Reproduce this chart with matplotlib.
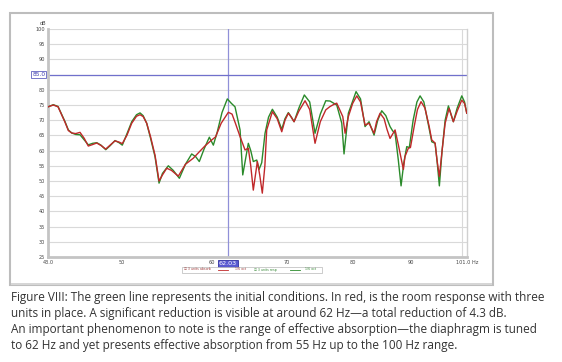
import matplotlib
matplotlib.use("Agg")
import matplotlib.pyplot as plt
import matplotlib.patches as mpatches
import matplotlib.ticker as mticker

# initial conditions (green) - frequency [Hz] / level [dB]
GREEN_F = [43.0, 43.47, 43.89, 44.52, 44.82, 45.13, 45.5, 45.9, 46.3, 46.68,
           47.1, 47.49, 47.9, 48.37, 48.8, 49.29, 49.7, 50.03, 50.5, 51.0,
           51.5, 51.87, 52.2, 52.58, 53.0, 53.48, 53.92, 54.3, 54.95, 55.5,
           56.2, 56.9, 57.63, 58.1, 58.53, 59.1, 59.74, 60.23, 60.7, 61.3,
           61.97, 62.5, 62.95, 63.6, 63.95, 64.3, 64.68, 65.0, 65.34, 65.8,
           66.11, 66.47, 66.92, 67.4, 67.93, 68.6, 69.24, 69.7, 70.18, 70.6,
           71.0, 71.7, 72.5, 73.3, 74.1, 74.9, 75.74, 76.4, 77.45, 78.25,
           78.61, 79.31, 80.56, 81.3, 82.05, 82.72, 83.57, 84.2, 84.89, 85.6,
           86.34, 86.8, 87.23, 87.8, 88.3, 88.8, 89.33, 89.8, 90.5, 91.2,
           91.79, 92.5, 93.3, 94.0, 94.64, 95.0, 95.47, 96.0, 96.6, 97.24,
           98.23, 99.0, 99.93, 100.5, 100.95]
GREEN_DB = [74.4, 75.1, 74.5, 69.5, 66.8, 65.8, 65.3, 65.2, 63.5, 61.9,
            62.4, 62.6, 61.8, 60.3, 61.6, 63.3, 62.6, 61.8, 65.5, 69.5,
            71.8, 72.4, 71.5, 69.0, 64.0, 58.0, 49.3, 52.5, 55.0, 53.5,
            50.9, 55.5, 58.9, 58.0, 56.4, 60.5, 64.4, 61.8, 66.0, 72.5,
            77.0, 75.5, 74.4, 66.8, 52.0, 57.0, 62.4, 60.0, 56.4, 56.9,
            53.8, 56.0, 65.7, 71.0, 73.6, 71.0, 67.0, 70.5, 72.5, 71.0,
            69.5, 74.0, 78.3, 76.0, 65.7, 72.0, 76.4, 76.3, 75.0, 69.0,
            58.9, 72.3, 79.4, 77.0, 67.9, 69.5, 65.1, 70.0, 73.1, 71.5,
            67.9, 66.5, 65.7, 57.0, 48.4, 56.0, 61.3, 61.0, 70.0, 76.0,
            78.0, 76.0, 69.0, 62.9, 62.4, 57.0, 48.4, 60.0, 70.0, 74.7,
            69.5, 74.0, 78.0, 76.0, 72.3]

# three units in place (red)
RED_F = [43.0, 43.47, 43.89, 44.52, 44.82, 45.13, 45.5, 45.9, 46.3, 46.68,
         47.1, 47.49, 47.9, 48.37, 48.8, 49.29, 49.7, 50.03, 50.5, 51.0,
         51.5, 51.87, 52.2, 52.58, 53.0, 53.48, 53.92, 54.3, 54.77, 55.3,
         56.08, 56.9, 57.82, 58.53, 59.2, 60.03, 60.5, 61.2, 62.1, 62.57,
         63.0, 63.6, 64.25, 64.68, 65.0, 65.34, 65.88, 66.2, 66.55, 66.9,
         67.15, 67.93, 68.6, 69.24, 69.7, 70.18, 70.6, 71.0, 71.7, 72.61,
         73.3, 74.1, 74.9, 75.74, 76.4, 77.08, 77.45, 78.41, 78.78, 79.31,
         80.0, 80.68, 81.3, 82.05, 82.72, 83.57, 84.0, 84.6, 85.3, 85.8,
         86.34, 87.23, 87.8, 88.72, 89.0, 89.62, 90.0, 90.7, 91.3, 91.97,
         92.7, 93.5, 94.0, 94.64, 95.0, 95.47, 96.0, 96.6, 97.38, 98.23,
         99.0, 99.93, 100.5, 100.95]
RED_DB = [74.4, 75.0, 74.4, 69.3, 66.6, 65.8, 65.6, 66.0, 64.0, 61.5,
          62.0, 62.5, 61.7, 60.5, 61.8, 63.2, 62.8, 62.3, 65.0, 69.0,
          71.3, 71.8, 71.2, 69.0, 64.5, 58.5, 50.0, 52.0, 54.2, 53.5,
          51.6, 55.5, 57.5, 59.6, 61.5, 63.5, 64.5, 69.0, 72.6, 72.0,
          69.0, 64.6, 60.2, 60.8, 55.0, 47.0, 56.4, 52.0, 46.0, 55.0,
          66.8, 72.8, 70.5, 66.2, 70.0, 72.3, 71.0, 69.5, 73.0, 76.4,
          73.5, 62.4, 69.5, 73.4, 74.5, 75.3, 75.6, 71.2, 65.7, 71.2,
          75.5, 78.0, 76.0, 68.4, 69.0, 65.7, 69.5, 72.3, 70.5, 67.0,
          64.0, 66.8, 62.0, 53.8, 58.0, 60.8, 61.0, 68.0, 73.5, 76.1,
          74.0, 68.0, 63.5, 62.5, 57.0, 51.5, 60.0, 69.0, 73.9, 69.5,
          73.0, 76.6, 75.5, 72.3]

X_TICKS = [43.0, 50, 60, 70, 80, 90, 101.0]
X_TICK_LABELS = ["43.0", "50", "60", "70", "80", "90", "101.0 Hz"]
X_GRID = [50, 60, 70, 80, 90, 100]
Y_TICKS = list(range(25, 101, 5))
CURSOR_F = 62.03
CURSOR_DB = 85.0

CAPTION = [
    "Figure VIII: The green line represents the initial conditions. In red, is the room response with three",
    "units in place. A significant reduction is visible at around 62 Hz\u2014a total reduction of 4.3 dB.",
    "An important phenomenon to note is the range of effective absorption\u2014the diaphragm is tuned",
    "to 62 Hz and yet presents effective absorption from 55 Hz up to the 100 Hz range.",
]

W, H = 562, 362
fig = plt.figure(figsize=(W / 100, H / 100), dpi=100)
fig.patch.set_facecolor("white")


def fx(px):
    return px / W


def fy(py):
    return 1 - py / H


# outer frame of the screenshot
fig.patches.append(mpatches.Rectangle((fx(10), fy(285)), fx(483), (285 - 13) / H,
                                      transform=fig.transFigure, fill=False,
                                      edgecolor="#bdbdbd", linewidth=1.5))
fig.patches.append(mpatches.Rectangle((fx(11), fy(285)), fx(481), 2.5 / H,
                                      transform=fig.transFigure, facecolor="#d6d6d6",
                                      edgecolor="none"))

ax = fig.add_axes([fx(48), fy(257), (467 - 48) / W, (257 - 29) / H])
ax.set_xscale("log")
ax.set_xlim(43.0, 101.0)
ax.set_ylim(25, 100)

ax.plot(GREEN_F, GREEN_DB, color="#2a8a2a", linewidth=1.0, zorder=3,
        solid_joinstyle="round")
ax.plot(RED_F, RED_DB, color="#c0282a", linewidth=1.0, zorder=4,
        solid_joinstyle="round")

ax.axvline(CURSOR_F, color="#9090d8", linewidth=0.9, zorder=2)
ax.axhline(CURSOR_DB, color="#7070cc", linewidth=0.9, zorder=2)

ax.xaxis.set_major_locator(mticker.FixedLocator(X_TICKS))
ax.xaxis.set_major_formatter(mticker.FixedFormatter(X_TICK_LABELS))
ax.xaxis.set_minor_locator(mticker.FixedLocator(X_GRID))
ax.xaxis.set_minor_formatter(mticker.NullFormatter())
ax.set_yticks(Y_TICKS)
# the 85 label is hidden under the cursor readout box
ax.set_yticklabels(["" if v == CURSOR_DB else str(v) for v in Y_TICKS])
ax.tick_params(axis="both", which="both", length=0, labelsize=3.6,
               colors="#444444", pad=2)
ax.grid(True, axis="x", which="minor", color="#d9d9d9", linewidth=0.8)
ax.grid(True, axis="y", which="major", color="#d9d9d9", linewidth=0.8)
ax.set_axisbelow(True)
for side in ["left", "bottom"]:
    ax.spines[side].set_color("#c4c4c4")
    ax.spines[side].set_linewidth(2.0)
ax.spines["right"].set_color("#d0d0d0")
ax.spines["right"].set_linewidth(1.0)
ax.spines["top"].set_visible(False)

ax.text(-0.004, 1.012, "dB", transform=ax.transAxes, ha="right", va="bottom",
        fontsize=3.6, color="#444444")

# cursor readouts
ax.text(-0.006, CURSOR_DB, "%.1f" % CURSOR_DB, transform=ax.get_yaxis_transform(),
        ha="right", va="center", fontsize=4.2, color="#4040b0",
        bbox=dict(boxstyle="square,pad=0.15", facecolor="white",
                  edgecolor="#6060c0", linewidth=0.6))
ax.text(CURSOR_F, -0.03, "%.2f" % CURSOR_F, transform=ax.get_xaxis_transform(),
        ha="center", va="center", fontsize=4.6, color="white",
        bbox=dict(boxstyle="square,pad=0.15", facecolor="#5a5ad0",
                  edgecolor="#3030a0", linewidth=0.6))

# legend strip under the graph
lx0, lx1, ly0, ly1 = 182, 322, 266.5, 272.5
fig.patches.append(mpatches.Rectangle((fx(lx0), fy(ly1)), fx(lx1 - lx0), (ly1 - ly0) / H,
                                      transform=fig.transFigure, facecolor="white",
                                      edgecolor="#b8b8b8", linewidth=0.5))
ly = fy(269.5)
fig.text(fx(184), ly, "\u2611 3 units absorb", fontsize=2.3, color="#a04040", va="center")
fig.add_artist(plt.Line2D([fx(218), fx(228)], [ly, ly], color="#c0282a", linewidth=0.6))
fig.text(fx(235), ly, "1/6 oct", fontsize=2.3, color="#a04040", va="center")
fig.text(fx(254), ly, "\u2611 3 units resp", fontsize=2.3, color="#3a8a3a", va="center")
fig.add_artist(plt.Line2D([fx(290), fx(300)], [ly, ly], color="#2a8a2a", linewidth=0.6))
fig.text(fx(305), ly, "1/6 oct", fontsize=2.3, color="#3a8a3a", va="center")

# caption
for i, line in enumerate(CAPTION):
    fig.text(fx(11), fy(297 + 16 * i), line, fontsize=8.5, family="Open Sans",
             color="#333333", ha="left", va="center")

fig.savefig("out.png", dpi=100, facecolor="white")
